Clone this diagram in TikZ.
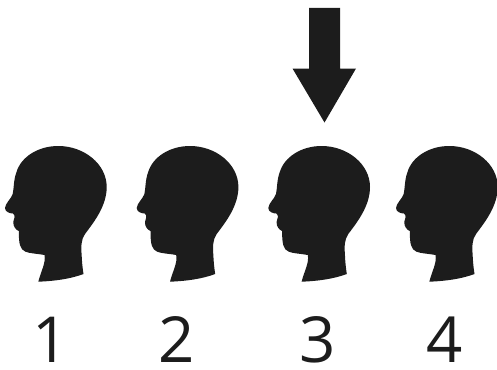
\documentclass[tikz,border=0pt]{standalone}
\usepackage{fontspec}
\setmainfont{Open Sans}
\definecolor{ink}{HTML}{1C1C1C}
\tikzset{
  digit/.style={text=ink,inner sep=0pt,anchor=base,font=\fontsize{63.5}{63.5}\selectfont},
  head/.pic={
    \fill[ink] (58.3,16) .. controls (84,16) and (106.7,34) .. (106.7,57)
      .. controls (106.7,76) and (94,92) .. (85,104)
      .. controls (81,110) and (81,116) .. (81.7,126)
      .. controls (81.8,130) and (82.5,138) .. (83.5,144)
      .. controls (70,149) and (55,151) .. (38.3,151.7)
      .. controls (41,141) and (46,133) .. (44.5,125)
      .. controls (36,123.5) and (30,123.5) .. (25.5,121.7)
      .. controls (20,119.5) and (18.8,114) .. (18.8,101)
      .. controls (16,100) and (13,96.5) .. (13.3,92)
      .. controls (14,88) and (16,86) .. (13,83.5)
      .. controls (10,83.5) and (5,82) .. (5,78)
      .. controls (5.5,73) and (11,69) .. (12.7,64)
      .. controls (14,58) and (13.5,50) .. (16.5,42)
      .. controls (21,27) and (38,16) .. (58.3,16) -- cycle;
  }
}
\begin{document}
\begin{tikzpicture}[x=1pt,y=-1pt]
\useasboundingbox (0,0) rectangle (497,369);
\clip (0,0) rectangle (497,369);
\pic at (0,130) {head};
\pic at (131.7,130) {head};
\pic at (263.3,130) {head};
\pic at (391,130) {head};
\fill[ink] (309,8) -- (340,8) -- (340,68.5) -- (356,68.5) -- (324.5,122.5) -- (292.5,68.5) -- (309,68.5) -- cycle;
\node[digit] (n1) at (51,362) {1};
\node[digit] (n2) at (177,362) {2};
\node[digit] (n3) at (318,362) {3};
\node[digit] (n4) at (445,362) {4};
\end{tikzpicture}
\end{document}
